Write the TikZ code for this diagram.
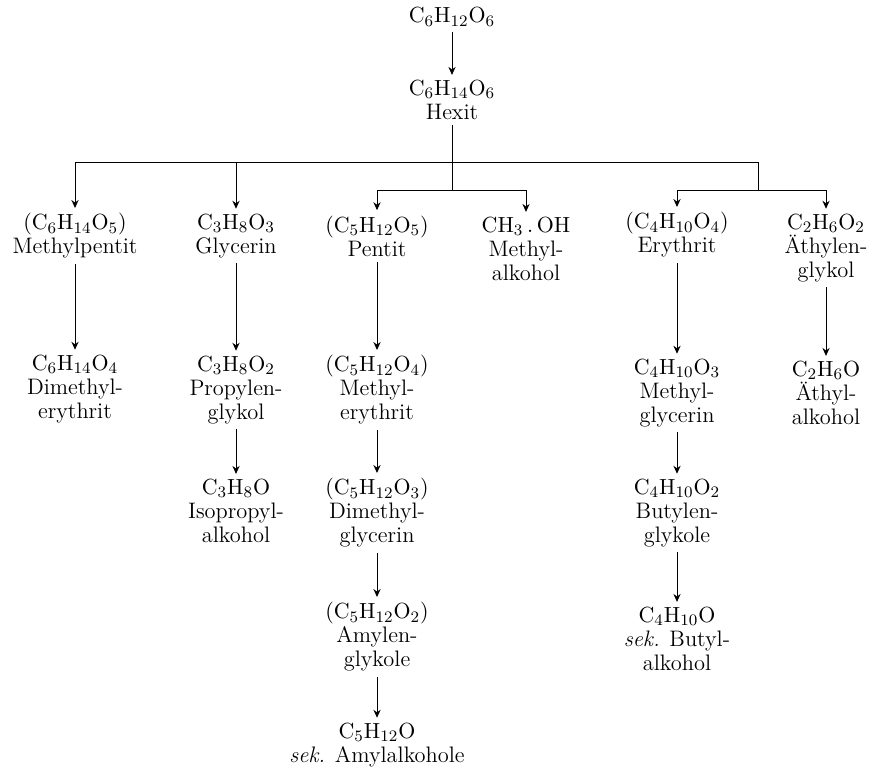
\documentclass[tikz,border=0pt]{standalone}
\usetikzlibrary{positioning, arrows.meta}
\tikzset{
    arrow/.style={draw,-{Stealth[length=4pt,width=3.6pt]}},
    chem/.style={align=center,inner sep=2.5pt,font=\fontsize{11.2pt}{12pt}\selectfont}
}

\begin{document}
\begin{tikzpicture}[x=0.5pt, y=-0.5pt, line width=0.5pt]
    \useasboundingbox (0,0) rectangle (876,768);

    % define levels of the branching lines
    \def\busA{162}
    \def\busB{190}

    % nodes
    \node [chem] at (452,17)  (glucose) {$\mathrm{C_6H_{12}O_6}$};
    \node [chem] at (452,100) (hexit)   {$\mathrm{C_6H_{14}O_6}$\\Hexit};

    \node [chem] at (75,236)  (mpent)   {$(\mathrm{C_6H_{14}O_5})$\\Methylpentit};
    \node [chem] at (75,389)  (dimery)  {$\mathrm{C_6H_{14}O_4}$\\Dimethyl-\\erythrit};

    \node [chem] at (236,236) (glyc)    {$\mathrm{C_3H_8O_3}$\\Glycerin};
    \node [chem] at (236,390) (propgl)  {$\mathrm{C_3H_8O_2}$\\Propylen-\\glykol};
    \node [chem] at (236,511) (isoprop) {$\mathrm{C_3H_8O}$\\Isopropyl-\\alkohol};

    \node [chem] at (377,236) (pent)    {$(\mathrm{C_5H_{12}O_5})$\\Pentit};
    \node [chem] at (377,390) (meery)   {$(\mathrm{C_5H_{12}O_4})$\\Methyl-\\erythrit};
    \node [chem] at (377,513) (dimegly) {$(\mathrm{C_5H_{12}O_3})$\\Dimethyl-\\glycerin};
    \node [chem] at (377,637) (amylgl)  {$(\mathrm{C_5H_{12}O_2})$\\Amylen-\\glykole};
    \node [chem] at (377,745) (amylalk) {$\mathrm{C_5H_{12}O}$\\\textit{sek.} Amylalkohole};

    \node [chem] at (526,249) (meoh)    {$\mathrm{CH_3\,.\,OH}$\\Methyl-\\alkohol};

    \node [chem] at (677,235) (ery)     {$(\mathrm{C_4H_{10}O_4})$\\Erythrit};
    \node [chem] at (677,393) (megly)   {$\mathrm{C_4H_{10}O_3}$\\Methyl-\\glycerin};
    \node [chem] at (677,513) (butgl)   {$\mathrm{C_4H_{10}O_2}$\\Butylen-\\glykole};
    \node [chem] at (677,639) (butalk)  {$\mathrm{C_4H_{10}O}$\\\textit{sek.} Butyl-\\alkohol};

    \node [chem] at (826,248) (aegl)    {$\mathrm{C_2H_6O_2}$\\Äthylen-\\glykol};
    \node [chem] at (826,393) (aealk)   {$\mathrm{C_2H_6O}$\\Äthyl-\\alkohol};

    % branching points
    \coordinate (split)   at (452,\busA);
    \coordinate (splitM)  at (452,\busB);
    \coordinate (splitR)  at (758,\busA);
    \coordinate (splitRR) at (758,\busB);

    % draw lines
    \draw (hexit) -- (split);
    \draw (mpent |- split) -- (splitR);
    \draw (split) -- (splitM);
    \draw (pent |- splitM) -- (meoh |- splitM);
    \draw (splitR) -- (splitRR);
    \draw (ery |- splitRR) -- (aegl |- splitRR);

    % draw arrows
    \begin{scope}[arrow]
        \draw (glucose) -- (hexit);
        \draw (mpent |- split) -- (mpent);
        \draw (glyc |- split) -- (glyc);
        \draw (pent |- splitM) -- (pent);
        \draw (meoh |- splitM) -- (meoh);
        \draw (ery |- splitRR) -- (ery);
        \draw (aegl |- splitRR) -- (aegl);

        \draw (mpent) -- (dimery);
        \draw (glyc) -- (propgl);
        \draw (propgl) -- (isoprop);
        \draw (pent) -- (meery);
        \draw (meery) -- (dimegly);
        \draw (dimegly) -- (amylgl);
        \draw (amylgl) -- (amylalk);
        \draw (ery) -- (megly);
        \draw (megly) -- (butgl);
        \draw (butgl) -- (butalk);
        \draw (aegl) -- (aealk);
    \end{scope}
\end{tikzpicture}
\end{document}
